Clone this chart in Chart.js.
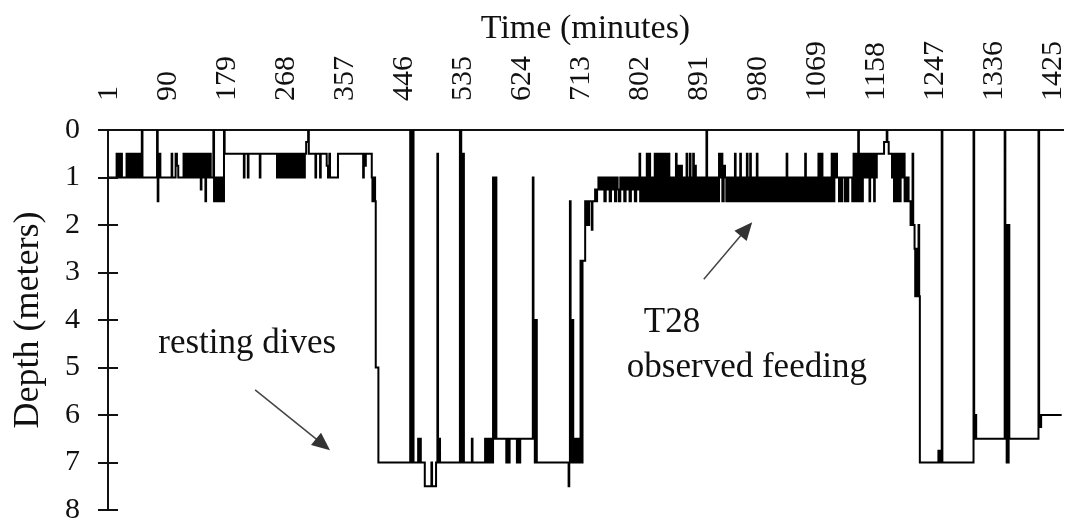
<!DOCTYPE html>
<html>
<head>
<meta charset="utf-8">
<script src="https://cdn.jsdelivr.net/npm/chart.js@4.4.1/dist/chart.umd.min.js"></script>
<style>
  html, body { margin: 0; padding: 0; background: #fff; }
  #wrap { width: 1065px; height: 521px; }
</style>
</head>
<body>
<div id="wrap"><canvas id="diveChart" width="1065" height="521"></canvas></div>
<script>
// labels on the time axis (every 89 minutes) and on the depth axis
const timeTicks = [1, 90, 179, 268, 357, 446, 535, 624, 713, 802, 891, 980, 1069, 1158, 1247, 1336, 1425];
const depthTicks = [0, 1, 2, 3, 4, 5, 6, 7, 8];

// minute at which a new depth reading starts ...
const minutes = [
  1, 14, 15, 16, 18, 21, 22, 29, 31, 33,
  34, 37, 39, 40, 42, 43, 45, 46, 48, 49,
  51, 52, 53, 75, 76, 77, 79, 80, 97, 98,
  103, 105, 107, 115, 117, 118, 120, 121, 123, 124,
  126, 127, 129, 130, 132, 133, 135, 136, 138, 139,
  141, 142, 144, 146, 148, 149, 151, 153, 156, 160,
  161, 163, 164, 166, 167, 169, 170, 172, 173, 176,
  177, 206, 207, 212, 213, 230, 231, 256, 257, 260,
  262, 263, 265, 266, 268, 269, 271, 272, 274, 275,
  277, 279, 281, 284, 285, 287, 289, 290, 292, 293,
  295, 296, 298, 300, 303, 304, 314, 315, 321, 322,
  331, 333, 335, 336, 348, 386, 387, 389, 390, 399,
  400, 401, 402, 403, 404, 405, 409,
  // resting dives
  457, 459, 460, 462, 469, 470, 471, 473, 479, 489,
  490, 496, 498, 499, 500, 502, 532, 534, 535, 536,
  538, 550, 551, 570, 571, 574, 576, 578, 580, 582,
  584, 585, 587, 602, 603, 606, 607, 618, 619, 622,
  623, 642, 643, 644, 645, 646, 648, 696, 697, 698,
  699, 700, 701, 702, 703, 705, 706, 708, 709, 712,
  714, 716, 717, 721, 722, 724, 725, 727, 731, 732,
  736, 738, 739,
  // feeding
  741, 743, 745, 747, 749, 750, 752, 754, 756, 758,
  760, 762, 764, 766, 768, 770, 772, 774, 776, 778,
  780, 782, 784, 786, 788, 790, 792, 794, 796, 798,
  800, 802, 803, 804, 806, 808, 810, 812, 814, 815,
  817, 818, 819, 821, 823, 825, 826, 828, 830, 832,
  834, 836, 838, 840, 842, 844, 846, 848, 850, 852,
  854, 856, 858, 859, 861, 862, 864, 866, 867, 869,
  871, 873, 874, 875, 877, 879, 880, 882, 884, 885,
  887, 888, 890, 892, 894, 896, 898, 900, 902, 904,
  905, 907, 909, 911, 913, 915, 917, 919, 921, 923,
  925, 926, 928, 930, 932, 934, 936, 938, 940, 942,
  944, 946, 947, 948, 950, 952, 954, 955, 956, 958,
  960, 962, 964, 965, 966, 968, 970, 971, 973, 975,
  977, 979, 980, 981, 983, 985, 987, 989, 991, 993,
  995, 997, 999, 1001, 1003, 1005, 1007, 1009, 1011, 1013,
  1015, 1017, 1019, 1021, 1023, 1025, 1026, 1028, 1030, 1032,
  1034, 1036, 1038, 1040, 1042, 1044, 1046, 1048, 1050, 1052,
  1053, 1054, 1056, 1058, 1060, 1062, 1064, 1066, 1068, 1070,
  1072, 1073, 1075, 1077, 1079, 1080, 1082, 1084, 1086, 1088,
  1090, 1092, 1093, 1094, 1096, 1097, 1098, 1100, 1101, 1104,
  1105, 1108, 1109, 1113, 1114, 1117, 1118, 1124, 1125, 1126,
  1128, 1130, 1132, 1133, 1134, 1136, 1138, 1140, 1142, 1144,
  1146, 1148, 1150, 1151, 1153, 1155, 1157, 1158, 1160, 1161,
  1172, 1176, 1177, 1179, 1184, 1185, 1187, 1189, 1191, 1193,
  1195, 1197, 1199, 1201, 1203, 1204, 1206, 1207, 1209,
  // late dives
  1212, 1215, 1216, 1218, 1219, 1220, 1221, 1222, 1223, 1224,
  1225, 1226, 1254, 1256, 1258, 1259, 1260, 1307, 1308, 1309,
  1311, 1354, 1355, 1356, 1357, 1358, 1359, 1360, 1361, 1405,
  1406, 1407, 1409, 1440
];

// ... and the depth (m) recorded from that minute on
const depths = [
  1, 0.5, 1, 0.5, 1, 0.5, 1, 0.5, 1, 0.5,
  1, 0.5, 1, 0.5, 1, 0.5, 1, 0.5, 1, 0.5,
  1, 0, 1, 0, 1.5, 1, 0.5, 1, 0.5, 1,
  0.5, 0.75, 1, 0.5, 1, 0.5, 1, 0.5, 1, 0.5,
  1, 0.5, 1, 0.5, 1, 0.5, 1, 0.5, 1, 0.5,
  1.25, 0.5, 1, 0.5, 1.5, 0.5, 1, 0.5, 1, 0,
  1.5, 1, 1.5, 1, 1.5, 1, 1.5, 1, 1.5, 0,
  0.5, 1, 0.5, 1, 0.5, 1, 0.5, 1, 0.5, 1,
  0.5, 1, 0.5, 1, 0.5, 1, 0.5, 1, 0.5, 1,
  0.5, 1, 0.5, 1, 0.5, 1, 0.5, 1, 0.5, 1,
  0.5, 1, 0.5, 0.25, 0, 0.5, 1, 0.5, 1, 0.5,
  0.75, 1, 0.5, 1, 0.5, 1, 0.5, 0.75, 0.5, 1,
  1.5, 1, 1.5, 1, 1.5, 5, 7,
  // resting dives
  0, 7, 0, 7, 6.5, 7, 6.5, 7, 7.5, 7,
  7.5, 7, 0.5, 7, 6.5, 7, 0, 0.5, 7, 0.5,
  7, 6.5, 7, 6.5, 7, 6.5, 7, 6.5, 7, 1,
  6.5, 1, 6.5, 7, 6.5, 7, 6.5, 7, 6.5, 7,
  6.5, 1, 6.5, 4, 7, 4, 7, 7.5, 7, 1.5,
  7, 4, 7, 4, 6.5, 7, 6.5, 7, 6.5, 7,
  2.75, 7, 2.75, 1.5, 2, 1.5, 2, 1.5, 2.1, 1.5,
  1.25, 1.5, 1.25,
  // feeding
  1, 1.25, 1, 1.25, 1, 1.5, 1, 1.25, 1, 1.5,
  1, 1.25, 1, 1.5, 1, 1.25, 1.5, 1, 1.25, 1,
  1.5, 1, 1.25, 1, 1.5, 1, 1.25, 1, 1.5, 1,
  1.25, 1, 0.5, 1.5, 1, 1.5, 1, 1.5, 0.5, 1.5,
  1, 0.5, 1.5, 1, 1.5, 1, 0.5, 1.5, 0.5, 1.5,
  0.5, 1.5, 0.5, 1.5, 0.5, 1.5, 0.5, 1.5, 1, 1.5,
  1, 1.5, 0.5, 1.5, 1, 0.75, 1.5, 0.75, 1.5, 1,
  1.5, 1, 0.5, 1.5, 1, 0.5, 1.5, 1, 0.5, 1.5,
  0.75, 1.5, 1, 1.5, 1, 1.5, 1, 1.5, 1, 0,
  1.5, 1, 1.5, 1, 1.5, 1, 1.5, 1, 1.5, 0.5,
  1, 0.5, 1.5, 0.75, 1, 1.5, 1, 1.5, 1, 1.5,
  1, 1.5, 0.5, 1.5, 1, 1.5, 1, 0.5, 1.5, 1,
  1.5, 1, 1.5, 0.5, 1, 1.5, 0.5, 1.5, 1, 1.5,
  1, 1.5, 0.5, 1, 1.5, 1, 1.5, 1, 1.5, 1,
  1.5, 1, 1.5, 1, 1.5, 1, 1.5, 1, 1.5, 1,
  1.5, 1, 1.5, 1, 1.5, 0.5, 1.5, 1, 1.5, 1,
  1.5, 1, 1.5, 1, 1.5, 1, 1.5, 1, 1.5, 1,
  0.5, 1.5, 1, 1.5, 1, 1.5, 1, 1.5, 1, 1.5,
  1, 0.5, 1.5, 0.5, 1, 1.5, 1, 1.5, 1, 1.5,
  1, 1.5, 0.5, 1, 1.5, 0.5, 1, 0.5, 1, 1.5,
  1, 1.5, 1, 1.5, 1, 1.5, 1, 1.5, 1, 0.5,
  1.5, 0.5, 1.5, 0, 1.5, 0.5, 1.5, 0.5, 1, 0.5,
  1, 0.5, 1.5, 0.5, 1, 0.5, 1.5, 0.5, 1, 0.5,
  0.25, 0, 0.25, 0.5, 1, 0.5, 1.5, 0.5, 1.5, 0.5,
  1.5, 0.5, 1, 0.5, 1.5, 1, 1.5, 1, 1.5,
  // late dives
  2, 0.5, 2, 2.5, 3.5, 2.5, 3.5, 2.5, 3.5, 2,
  3.5, 7, 6.75, 7, 6.75, 0, 7, 0, 6.5, 6,
  6.5, 0, 6.5, 2, 7, 2, 7, 2, 6.5, 0,
  6, 6.25, 6, 6
];

// text notes and arrows placed in data units (minute, depth)
const notes = [
  { text: 'resting dives', minute: 211, depth: 4.69 },
  { text: 'T28', minute: 852, depth: 4.25 },
  { text: 'observed feeding', minute: 965, depth: 5.2 }
];
const arrows = [
  { from: [223, 5.47], to: [336, 6.74] },
  { from: [900, 3.14], to: [973, 1.94] }
];

Chart.defaults.font.family = '"Liberation Serif", "Times New Roman", serif';
Chart.defaults.color = '#111';

const points = minutes.map((m, i) => ({ x: m, y: depths[i] }));

const annotate = {
  id: 'annotate',
  afterDraw(chart) {
    const { ctx, chartArea, scales: { x, y } } = chart;
    ctx.save();
    // inner half of the depth tick marks
    ctx.strokeStyle = '#111';
    ctx.lineWidth = 2;
    depthTicks.forEach(v => {
      const py = Math.round(y.getPixelForValue(v));
      ctx.beginPath();
      ctx.moveTo(chartArea.left, py);
      ctx.lineTo(chartArea.left + 10, py);
      ctx.stroke();
    });

    ctx.font = '35px "Liberation Serif"';
    ctx.fillStyle = '#111';
    ctx.textAlign = 'center';
    ctx.textBaseline = 'alphabetic';
    notes.forEach(n => ctx.fillText(n.text, x.getPixelForValue(n.minute), y.getPixelForValue(n.depth)));

    ctx.strokeStyle = '#444';
    ctx.fillStyle = '#333';
    ctx.lineWidth = 1.5;
    arrows.forEach(a => {
      const x0 = x.getPixelForValue(a.from[0]), y0 = y.getPixelForValue(a.from[1]);
      const x1 = x.getPixelForValue(a.to[0]), y1 = y.getPixelForValue(a.to[1]);
      const ang = Math.atan2(y1 - y0, x1 - x0);
      ctx.beginPath();
      ctx.moveTo(x0, y0);
      ctx.lineTo(x1 - 12 * Math.cos(ang), y1 - 12 * Math.sin(ang));
      ctx.stroke();
      ctx.beginPath();
      ctx.moveTo(x1, y1);
      ctx.lineTo(x1 - 18 * Math.cos(ang) + 8 * Math.sin(ang), y1 - 18 * Math.sin(ang) - 8 * Math.cos(ang));
      ctx.lineTo(x1 - 18 * Math.cos(ang) - 8 * Math.sin(ang), y1 - 18 * Math.sin(ang) + 8 * Math.cos(ang));
      ctx.closePath();
      ctx.fill();
    });
    ctx.restore();
  }
};

new Chart(document.getElementById('diveChart'), {
  type: 'line',
  data: {
    datasets: [{
      label: 'Depth',
      data: points,
      stepped: true,
      borderColor: '#000',
      borderWidth: 2,
      pointRadius: 0,
      fill: false
    }]
  },
  options: {
    responsive: false,
    animation: false,
    events: [],
    layout: { padding: { left: 0, right: 2, top: 0, bottom: 11 } },
    plugins: {
      legend: { display: false },
      tooltip: { enabled: false }
    },
    scales: {
      x: {
        type: 'linear',
        position: 'top',
        min: 1,
        max: 1442,
        afterBuildTicks: s => { s.ticks = timeTicks.map(v => ({ value: v })); },
        afterFit: s => { s.height = 130; s.paddingLeft = 0; s.paddingRight = 0; },
        ticks: {
          autoSkip: false,
          minRotation: 90,
          maxRotation: 90,
          padding: 29,
          labelOffset: 37,
          font: { size: 30 },
          callback: v => String(v)
        },
        grid: { display: true, drawOnChartArea: false, drawTicks: false },
        border: { display: true, color: '#111', width: 2 },
        title: { display: true, text: 'Time (minutes)', font: { size: 34 }, padding: { top: 9, bottom: 0 } }
      },
      y: {
        type: 'linear',
        min: 0,
        max: 8,
        reverse: true,
        afterBuildTicks: s => { s.ticks = depthTicks.map(v => ({ value: v })); },
        afterFit: s => { s.width = 108; s.paddingTop = 0; s.paddingBottom = 0; },
        ticks: { padding: 18, font: { size: 30 }, callback: v => String(v) },
        grid: { display: true, drawOnChartArea: false, drawTicks: true, tickLength: 10, color: '#111', lineWidth: 2 },
        border: { display: true, color: '#111', width: 2 },
        title: { display: true, text: 'Depth (meters)', font: { size: 36 }, padding: { top: 7, bottom: 0 } }
      }
    }
  },
  plugins: [annotate]
});
</script>
</body>
</html>
